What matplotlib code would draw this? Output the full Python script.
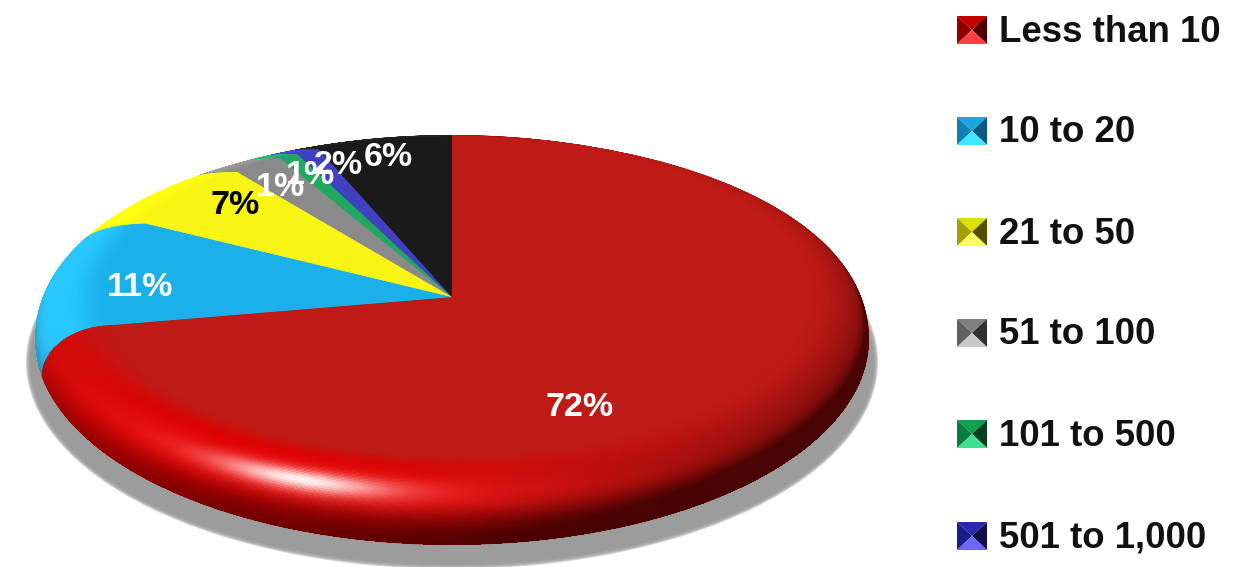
import numpy as np
import matplotlib
matplotlib.use('Agg')
import matplotlib.pyplot as plt
from matplotlib.colors import to_rgb
from matplotlib.patches import Ellipse
from matplotlib.transforms import Affine2D

# slice sizes measured from the angles in the picture, labels as printed
slice_shares = [72.2, 10.4, 6.7, 2.4, 0.9, 1.1, 6.3]
pct_labels = ['72%', '11%', '7%', '1%', '1%', '2%', '6%']
legend_labels = ['Less than 10', '10 to 20', '21 to 50', '51 to 100', '101 to 500', '501 to 1,000']

flat_colors = ['#BE1A16', '#1BB0EA', '#F8F414', '#8A8A8A', '#20A860', '#4040C0', '#1A1A1A']
rim_colors = ['#BE1A16', '#28C8FF', '#FFFF10', '#9A9A9A', '#20C070', '#4848D8', '#222222']
swatch_colors = [  # top, left, right, bottom
    ['#C00000', '#900000', '#500000', '#FF4040'],
    ['#18A8E0', '#1080B0', '#0A5A80', '#40E8FF'],
    ['#E0E000', '#A0A000', '#505000', '#FFFF60'],
    ['#808080', '#606060', '#303030', '#C8C8C8'],
    ['#10A050', '#0C7A40', '#064020', '#40E090'],
    ['#2828B0', '#1C1C88', '#101050', '#6868F0'],
]

label_style = [
    (580, 408, 'white'), (140, 287, 'white'), (235, 206, 'black'), (280, 188, 'white'),
    (310, 175, 'white'), (338, 166, 'white'), (388, 158, 'white'),
]
legend_y = [30, 131, 232, 333, 434, 536]

CX = 452
OUTER = (340, 417, 205)  # centre y, rx, ry of the silhouette
FLAT = (297, 345, 160)   # same for the flat top
N_LAYERS = 70


def smooth(a, b, x):
    v = np.clip((x - a) / (b - a), 0, 1)
    return v * v * (3 - 2 * v)


def layer_geom(s):
    # s=0 flat top, s=1 outer edge. width grows first, height later, so slice edges bend
    grow_x = np.sin(np.pi * s / 2)
    grow_y = 1 - np.cos(np.pi * s / 2)
    cy = FLAT[0] + (OUTER[0] - FLAT[0]) * grow_y
    rx = FLAT[1] + (OUTER[1] - FLAT[1]) * grow_x
    ry = FLAT[2] + (OUTER[2] - FLAT[2]) * grow_y
    return cy, rx, ry


plt.rcParams['font.family'] = ['Liberation Sans', 'DejaVu Sans']
fig = plt.figure(figsize=(12.48, 5.67), dpi=100, facecolor='white')
ax = fig.add_axes([0, 0, 1, 1])

# shadow, soft edge from a few stacked ellipses
for i in range(5):
    ax.add_patch(Ellipse((CX, 362), 2 * (426 - i), 2 * (207 - i), fc='#9C9C9C', ec='none', alpha=0.45 if i < 4 else 1, zorder=1))

# bevel + flat top as a stack of pies, outer layer first
levels = np.linspace(1, 0, N_LAYERS)
for k, s in enumerate(levels):
    cy, rx, ry = layer_geom(s)
    mix = smooth(0, 0.4, s)
    cols = [tuple(np.array(to_rgb(f)) * (1 - mix) + np.array(to_rgb(r)) * mix) for f, r in zip(flat_colors, rim_colors)]
    wedges, _ = ax.pie(slice_shares, colors=cols, startangle=90, counterclock=False, radius=1, wedgeprops={'linewidth': 0})
    tr = Affine2D().scale(rx, -ry).translate(CX, cy) + ax.transData
    for w in wedges:
        w.set_transform(tr)
        w.set_zorder(2 + k * 0.01)

ax.set_aspect('auto')
ax.set_xlim(0, 1248)
ax.set_ylim(567, 0)
ax.axis('off')

# per pixel: which bevel level, and clockwise angle inside that level
yy, xx = np.mgrid[0:567, 0:1248] + 0.5
bev = np.zeros(xx.shape)
cw = np.zeros(xx.shape)
inside = np.zeros(xx.shape, dtype=bool)
for s in levels:
    cy, rx, ry = layer_geom(s)
    m = ((xx - CX) / rx) ** 2 + ((yy - cy) / ry) ** 2 <= 1
    bev[m] = s
    inside |= m
    cw[m] = (np.degrees(np.arctan2((xx[m] - CX) / rx, -(yy[m] - cy) / ry))) % 360
red_part = cw < slice_shares[0] * 3.6

theta = np.arctan2((yy - 320) / 182, (xx - CX) / 385)
light = np.clip(0.5 + 0.5 * np.cos(theta - np.radians(50)), 0, 1)
right_side = np.clip(np.cos(theta - np.radians(15)), 0, 1) ** 2
dark = np.clip(smooth(0.62, 0.98, bev) * light * 0.85 + smooth(0.1, 0.95, bev) * right_side * 0.55, 0, 0.85)


def dtheta(deg):
    return np.degrees(np.angle(np.exp(1j * (theta - np.radians(deg)))))


rim_red = smooth(0.02, 0.4, bev) * np.exp(-(dtheta(125) / 62) ** 2) * 0.95 * red_part
glow = np.exp(-(dtheta(114) / 30) ** 2) * np.exp(-((bev - 0.6) / 0.15) ** 2) * 0.75
white = np.exp(-(dtheta(114) / 13) ** 2) * np.exp(-((bev - 0.6) / 0.09) ** 2) * 0.95

rgb = np.zeros(xx.shape + (3,))
alpha = np.zeros(xx.shape)
for layer, col in (((rim_red), (0.88, 0, 0)), (dark, (0.2, 0, 0)), (glow, (1, 0.2, 0.2)), (white, (1, 1, 1))):
    new_a = layer + alpha * (1 - layer)
    for c in range(3):
        rgb[..., c] = (col[c] * layer + rgb[..., c] * alpha * (1 - layer)) / np.maximum(new_a, 1e-6)
    alpha = new_a
alpha[~inside] = 0
ax.imshow(np.dstack([np.clip(rgb, 0, 1), alpha]), extent=(0, 1248, 567, 0), aspect='auto', zorder=3, interpolation='bilinear')
ax.set_xlim(0, 1248)
ax.set_ylim(567, 0)

for txt, (x, y, col) in zip(pct_labels, label_style):
    ax.text(x, y, txt, color=col, fontsize=24.5, fontweight='bold', ha='center', va='center', zorder=5)

# legend, bevelled squares
for name, y, cols in zip(legend_labels, legend_y, swatch_colors):
    x0, x1, y0, y1, xm, ym = 957, 987, y - 14, y + 14, 972, y
    ax.fill([x0, x1, xm], [y0, y0, ym], color=cols[0], lw=0, zorder=5)
    ax.fill([x0, x0, xm], [y0, y1, ym], color=cols[1], lw=0, zorder=5)
    ax.fill([x1, x1, xm], [y0, y1, ym], color=cols[2], lw=0, zorder=5)
    ax.fill([x0, x1, xm], [y1, y1, ym], color=cols[3], lw=0, zorder=5)
    ax.text(999, y + 2, name, fontsize=26.4, fontweight='bold', color='#111111', ha='left', va='center', zorder=5)

fig.savefig('out.png', dpi=100, facecolor='white')
